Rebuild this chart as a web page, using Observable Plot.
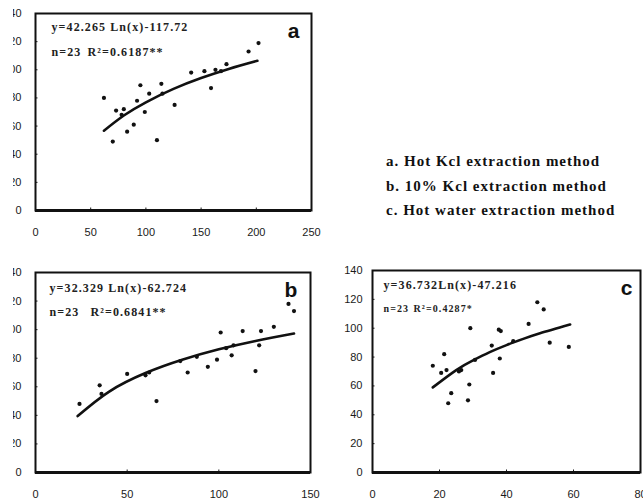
<!DOCTYPE html>
<html>
<head>
<meta charset="utf-8">
<script src="https://cdn.jsdelivr.net/npm/d3@7"></script>
<script src="https://cdn.jsdelivr.net/npm/@observablehq/plot@0.6"></script>
<style>
  html, body { margin: 0; padding: 0; background: #fff; }
  #page { position: relative; width: 643px; height: 500px; overflow: hidden; background: #fff; }
  .panel { position: absolute; overflow: hidden; }
  .panel svg { display: block; overflow: hidden; }
  .panel g[aria-label="text"] text { letter-spacing: 1.1px; }
  #legend { position: absolute; left: 386px; top: 149px; font: bold 15px "Liberation Serif", "Times New Roman", serif; letter-spacing: 1px; line-height: 24.5px; color: #111; white-space: nowrap; }
</style>
</head>
<body>
<div id="page">
  <div class="panel" id="pa" style="left:13px;top:0px;width:317px;height:240px"></div>
  <div class="panel" id="pb" style="left:13px;top:250px;width:317px;height:250px"></div>
  <div class="panel" id="pc" style="left:330px;top:250px;width:313px;height:250px"></div>
  <div id="legend"></div>
</div>
<script>
// ---- Panel a: Hot Kcl extraction method ----
const aX = [62, 70, 73, 80, 83, 89, 92, 95, 99, 103, 110, 114, 115, 126, 141, 153, 159, 163, 173, 193, 202, 78, 168];
const aY = [80, 49, 71, 72, 56, 61, 78, 89, 70, 83, 50, 90, 83, 75, 98, 99, 87, 100, 104, 113, 119, 68, 99];
const aCurveX = [62, 80, 100, 125, 150, 175, 201];
const aCurveY = [56.7, 67.5, 76.9, 86.4, 94.1, 100.6, 106.4];
const aXTicks = [0, 50, 100, 150, 200, 250];
const aEq = "y=42.265 Ln(x)-117.72";
const aN = "n=23";
const aR = "R\u00b2=0.6187**";

// ---- Panel b: 10% Kcl extraction method ----
const bX = [24, 35, 36, 50, 62, 66, 79, 83, 94, 99, 101, 104, 107, 108, 113, 120, 122, 123, 130, 138, 141, 60, 88];
const bY = [48, 61, 55, 69, 70, 50, 78, 70, 74, 79, 98, 87, 82, 89, 99, 71, 89, 99, 102, 118, 113, 68, 81];
const bCurveX = [23, 40, 60, 80, 100, 120, 141];
const bCurveY = [39.5, 56.5, 69.6, 78.9, 86.2, 92.1, 97.3];
const bXTicks = [0, 50, 100, 150];
const bEq = "y=32.329 Ln(x)-62.724";
const bN = "n=23";
const bR = "R\u00b2=0.6841**";

// ---- Panel c: Hot water extraction method ----
const cX = [18, 21.4, 22.1, 23.5, 22.6, 26.5, 28.9, 28.5, 29.2, 30.6, 35.6, 36, 37.7, 38, 46.6, 49.2, 51.1, 52.9, 58.6, 20.5, 25.8, 38.3, 42];
const cY = [74, 82, 71, 55, 48, 71, 61, 50, 100, 78, 88, 69, 99, 79, 103, 118, 113, 90, 87, 69, 70, 98, 91];
const cCurveX = [18, 25, 30, 35, 40, 45, 50, 59];
const cCurveY = [59.0, 71.0, 77.7, 83.4, 88.3, 92.6, 96.5, 102.6];
const cXTicks = [0, 20, 40, 60, 80];
const cEq = "y=36.732Ln(x)-47.216";
const cN = "n=23";
const cR = "R\u00b2=0.4287*";

const yTicks = [0, 20, 40, 60, 80, 100, 120, 140];
const legendLines = ["a. Hot Kcl extraction method", "b. 10% Kcl extraction method", "c. Hot water extraction method"];

const SERIF = "Liberation Serif, Times New Roman, serif";
const SANS = "Liberation Sans, Arial, sans-serif";

function panel(o) {
  const pts = o.xs.map((x, i) => ({x, y: o.ys[i]}));
  const curve = o.cx.map((x, i) => ({x, y: o.cy[i]}));
  return Plot.plot({
    width: o.width, height: o.height,
    marginLeft: o.ml, marginRight: o.mr, marginTop: o.mt, marginBottom: o.mb,
    style: {fontFamily: SANS, fontSize: "11px", color: "#1a1a1a", background: "white"},
    x: {domain: o.xDomain, ticks: o.xTicks, tickFormat: d => String(d)},
    y: {domain: [0, 140], ticks: yTicks, tickFormat: d => String(d)},
    marks: [
      Plot.axisX({ticks: o.xTicks, tickSize: -2.5, tickPadding: 20, tickFormat: d => String(d), label: null, fontSize: 11}),
      Plot.axisY({ticks: yTicks, tickSize: -2.5, tickPadding: o.yPad, tickFormat: d => String(d), label: null, fontSize: 11}),
      Plot.frame({stroke: "#111", strokeWidth: 2}),
      Plot.ruleY([0], {stroke: "#111", strokeWidth: 3}),
      Plot.line(curve, {x: "x", y: "y", curve: "natural", stroke: "#111", strokeWidth: 2.6}),
      Plot.dot(pts, {x: "x", y: "y", r: 2.1, fill: "#111", stroke: null}),
      Plot.text([o.eq], {frameAnchor: "top-left", dx: o.eqDx, dy: o.eqDy, textAnchor: "start", lineAnchor: "middle", fontFamily: SERIF, fontWeight: "bold", fontSize: 12, fill: "#222"}),
      Plot.text([o.n], {frameAnchor: "top-left", dx: o.eqDx, dy: o.nDy, textAnchor: "start", lineAnchor: "middle", fontFamily: SERIF, fontWeight: "bold", fontSize: o.nSize, fill: "#222"}),
      Plot.text([o.r], {frameAnchor: "top-left", dx: o.rDx, dy: o.nDy, textAnchor: "start", lineAnchor: "middle", fontFamily: SERIF, fontWeight: "bold", fontSize: o.nSize, fill: "#222"}),
      Plot.text([o.tag], {frameAnchor: "top-right", dx: o.tagDx, dy: o.tagDy, textAnchor: "end", lineAnchor: "middle", fontFamily: SANS, fontWeight: "bold", fontSize: 21, fill: "#111"})
    ]
  });
}

document.getElementById("pa").append(panel({
  width: 317, height: 240, ml: 22, mr: 19, mt: 13, mb: 30,
  xs: aX, ys: aY, cx: aCurveX, cy: aCurveY, xDomain: [0, 250], xTicks: aXTicks, yPad: 16.5,
  eq: aEq, n: aN, r: aR, eqDx: 16, eqDy: 14, nDy: 39, rDx: 52, nSize: 12, tag: "a", tagDx: -11, tagDy: 18
}));
document.getElementById("pb").append(panel({
  width: 317, height: 250, ml: 22, mr: 20, mt: 22, mb: 28,
  xs: bX, ys: bY, cx: bCurveX, cy: bCurveY, xDomain: [0, 150], xTicks: bXTicks, yPad: 16.5,
  eq: bEq, n: bN, r: bR, eqDx: 14, eqDy: 16, nDy: 40, rDx: 55, nSize: 12, tag: "b", tagDx: -12, tagDy: 18
}));
document.getElementById("pc").append(panel({
  width: 313, height: 250, ml: 42, mr: 3, mt: 20, mb: 28,
  xs: cX, ys: cY, cx: cCurveX, cy: cCurveY, xDomain: [0, 80], xTicks: cXTicks, yPad: 12.5,
  eq: cEq, n: cN, r: cR, eqDx: 11, eqDy: 15, nDy: 38, rDx: 41, nSize: 10, tag: "c", tagDx: -7, tagDy: 18
}));

const leg = document.getElementById("legend");
legendLines.forEach(t => { const d = document.createElement("div"); d.textContent = t; leg.append(d); });
</script>
</body>
</html>
